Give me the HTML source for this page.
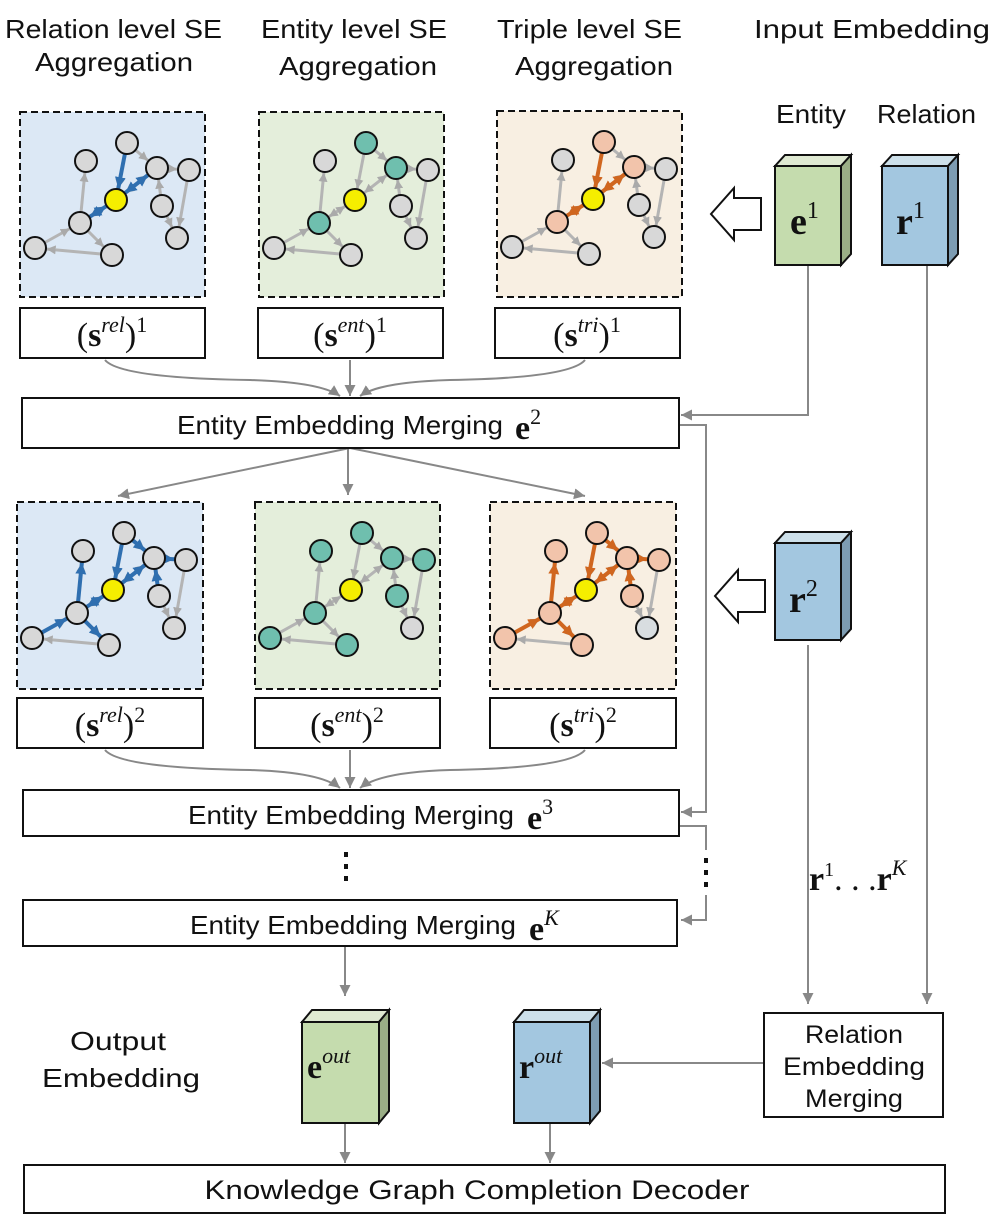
<!DOCTYPE html>
<html><head><meta charset="utf-8"><style>
body{margin:0;background:#fff}
svg{display:block}
text{font-family:"Liberation Sans",sans-serif;fill:#111}
.m{font-family:"Liberation Serif",serif;font-weight:bold}
.mi{font-family:"Liberation Serif",serif;font-style:italic}
</style></head><body>
<svg width="998" height="1230" viewBox="0 0 998 1230" xmlns="http://www.w3.org/2000/svg">
<defs>
<marker id="ag" viewBox="0 0 10 10" refX="23" refY="5" markerWidth="9" markerHeight="9" markerUnits="userSpaceOnUse" orient="auto-start-reverse"><path d="M0,0L10,5L0,10z" fill="#aaa"/></marker>
<marker id="ab" viewBox="0 0 10 10" refX="21" refY="5" markerWidth="11" markerHeight="11" markerUnits="userSpaceOnUse" orient="auto-start-reverse"><path d="M0,0L10,5L0,10z" fill="#2f6fb0"/></marker>
<marker id="ao" viewBox="0 0 10 10" refX="21" refY="5" markerWidth="11" markerHeight="11" markerUnits="userSpaceOnUse" orient="auto-start-reverse"><path d="M0,0L10,5L0,10z" fill="#d0661f"/></marker>
<marker id="ar" viewBox="0 0 10 10" refX="10" refY="5" markerWidth="11" markerHeight="11" markerUnits="userSpaceOnUse" orient="auto"><path d="M0,0L10,5L0,10z" fill="#888"/></marker>
<g id="gray" stroke="#b4b4b4" stroke-width="3" fill="none">
<line x1="60" y1="111" x2="66" y2="49" marker-end="url(#ag)"/>
<line x1="107" y1="31" x2="137" y2="56" marker-end="url(#ag)"/>
<line x1="137" y1="56" x2="169" y2="58" marker-end="url(#ag)"/>
<line x1="142" y1="94" x2="137" y2="56" marker-end="url(#ag)"/>
<line x1="169" y1="58" x2="157" y2="126" marker-end="url(#ag)"/>
<line x1="142" y1="94" x2="157" y2="126" marker-end="url(#ag)"/>
<line x1="60" y1="111" x2="92" y2="143" marker-end="url(#ag)"/>
<line x1="92" y1="143" x2="15" y2="136" marker-end="url(#ag)"/>
<line x1="15" y1="136" x2="60" y2="111" marker-end="url(#ag)"/>
<line x1="107" y1="31" x2="96" y2="88" marker-end="url(#ag)"/>
<line x1="96" y1="88" x2="137" y2="56" marker-end="url(#ag)" marker-start="url(#ag)"/>
<line x1="96" y1="88" x2="60" y2="111" marker-end="url(#ag)" marker-start="url(#ag)"/>
</g>
</defs>

<!-- headers -->
<g font-size="26">
<text x="5" y="38" textLength="217" lengthAdjust="spacingAndGlyphs">Relation level SE</text>
<text x="35" y="71" textLength="158" lengthAdjust="spacingAndGlyphs">Aggregation</text>
<text x="261" y="38" textLength="186" lengthAdjust="spacingAndGlyphs">Entity level SE</text>
<text x="279" y="75" textLength="158" lengthAdjust="spacingAndGlyphs">Aggregation</text>
<text x="497" y="38" textLength="185" lengthAdjust="spacingAndGlyphs">Triple level SE</text>
<text x="515" y="75" textLength="158" lengthAdjust="spacingAndGlyphs">Aggregation</text>
<text x="754" y="38" textLength="236" lengthAdjust="spacingAndGlyphs">Input Embedding</text>
<text x="776" y="123" textLength="70" lengthAdjust="spacingAndGlyphs">Entity</text>
<text x="877" y="123" textLength="99" lengthAdjust="spacingAndGlyphs">Relation</text>
</g>

<!-- row1 panels -->
<g transform="translate(20,112)">
<rect x="0" y="0" width="185" height="185" fill="#dce8f5" stroke="#111" stroke-width="2" stroke-dasharray="7,4"/>
<use href="#gray"/>
<g stroke="#2f6fb0" stroke-width="4"><line x1="107" y1="31" x2="96" y2="88" marker-end="url(#ab)"/><line x1="96" y1="88" x2="137" y2="56" marker-end="url(#ab)" marker-start="url(#ab)"/><line x1="96" y1="88" x2="60" y2="111" marker-end="url(#ab)" marker-start="url(#ab)"/></g>
<g stroke="#111" stroke-width="2" fill="#d8d8d8"><circle cx="66" cy="49" r="11"/><circle cx="107" cy="31" r="11"/><circle cx="137" cy="56" r="11"/><circle cx="169" cy="58" r="11"/><circle cx="142" cy="94" r="11"/><circle cx="157" cy="126" r="11"/><circle cx="60" cy="111" r="11"/><circle cx="15" cy="136" r="11"/><circle cx="92" cy="143" r="11"/><circle cx="96" cy="88" r="11" fill="#f5ee00"/></g>
</g>
<g transform="translate(259,112)">
<rect x="0" y="0" width="185" height="185" fill="#e4eedb" stroke="#111" stroke-width="2" stroke-dasharray="7,4"/>
<use href="#gray"/>
<g stroke="#111" stroke-width="2" fill="#d8d8d8"><circle cx="66" cy="49" r="11"/><circle cx="107" cy="31" r="11" fill="#6fbfae"/><circle cx="137" cy="56" r="11" fill="#6fbfae"/><circle cx="169" cy="58" r="11"/><circle cx="142" cy="94" r="11"/><circle cx="157" cy="126" r="11"/><circle cx="60" cy="111" r="11" fill="#6fbfae"/><circle cx="15" cy="136" r="11"/><circle cx="92" cy="143" r="11"/><circle cx="96" cy="88" r="11" fill="#f5ee00"/></g>
</g>
<g transform="translate(497,111)">
<rect x="0" y="0" width="185" height="186" fill="#f8efe2" stroke="#111" stroke-width="2" stroke-dasharray="7,4"/>
<use href="#gray"/>
<g stroke="#d0661f" stroke-width="4"><line x1="107" y1="31" x2="96" y2="88" marker-end="url(#ao)"/><line x1="96" y1="88" x2="137" y2="56" marker-end="url(#ao)" marker-start="url(#ao)"/><line x1="96" y1="88" x2="60" y2="111" marker-end="url(#ao)" marker-start="url(#ao)"/></g>
<g stroke="#111" stroke-width="2" fill="#d8d8d8"><circle cx="66" cy="49" r="11"/><circle cx="107" cy="31" r="11" fill="#f2c4ab"/><circle cx="137" cy="56" r="11" fill="#f2c4ab"/><circle cx="169" cy="58" r="11"/><circle cx="142" cy="94" r="11"/><circle cx="157" cy="126" r="11"/><circle cx="60" cy="111" r="11" fill="#f2c4ab"/><circle cx="15" cy="136" r="11"/><circle cx="92" cy="143" r="11"/><circle cx="96" cy="88" r="11" fill="#f5ee00"/></g>
</g>

<!-- row1 labels -->
<g fill="#fff" stroke="#111" stroke-width="2"><rect x="20" y="308" width="185" height="50"/><rect x="258" y="308" width="185" height="50"/><rect x="495" y="308" width="185" height="50"/></g>
<text x="112" y="346" font-size="34" text-anchor="middle" class="m"><tspan font-weight="normal">(</tspan><tspan>s</tspan><tspan class="mi" font-size="22" dy="-14" font-weight="normal">rel</tspan><tspan font-weight="normal" dy="14">)</tspan><tspan font-size="22" dy="-14" font-weight="normal">1</tspan></text>
<text x="350" y="346" font-size="34" text-anchor="middle" class="m"><tspan font-weight="normal">(</tspan><tspan>s</tspan><tspan class="mi" font-size="22" dy="-14" font-weight="normal">ent</tspan><tspan font-weight="normal" dy="14">)</tspan><tspan font-size="22" dy="-14" font-weight="normal">1</tspan></text>
<text x="587" y="346" font-size="34" text-anchor="middle" class="m"><tspan font-weight="normal">(</tspan><tspan>s</tspan><tspan class="mi" font-size="22" dy="-14" font-weight="normal">tri</tspan><tspan font-weight="normal" dy="14">)</tspan><tspan font-size="22" dy="-14" font-weight="normal">1</tspan></text>

<!-- connectors -->
<g stroke="#888" stroke-width="2" fill="none">
<path d="M105,360 Q120,378 250,380 Q320,382 340,396" marker-end="url(#ar)"/>
<line x1="350" y1="360" x2="350" y2="396" marker-end="url(#ar)"/>
<path d="M585,360 Q570,378 450,380 Q380,382 360,396" marker-end="url(#ar)"/>
<polyline points="808,265 808,415 681,415" marker-end="url(#ar)"/>
<polyline points="679,425 706,425 706,812 681,812" marker-end="url(#ar)"/>
<path d="M350,448 L118,496" marker-end="url(#ar)"/>
<line x1="348" y1="448" x2="348" y2="495" marker-end="url(#ar)"/>
<path d="M350,448 L585,496" marker-end="url(#ar)"/>
<path d="M105,750 Q120,768 250,770 Q320,772 340,788" marker-end="url(#ar)"/>
<line x1="350" y1="750" x2="350" y2="788" marker-end="url(#ar)"/>
<path d="M585,750 Q570,768 450,770 Q380,772 360,788" marker-end="url(#ar)"/>
<polyline points="679,826 706,826 706,850"/>
<polyline points="706,895 706,920 681,920" marker-end="url(#ar)"/>
<line x1="345" y1="946" x2="345" y2="996" marker-end="url(#ar)"/>
<line x1="808" y1="645" x2="808" y2="1004" marker-end="url(#ar)"/>
<line x1="927" y1="265" x2="927" y2="1004" marker-end="url(#ar)"/>
<line x1="764" y1="1063" x2="602" y2="1063" marker-end="url(#ar)"/>
<line x1="345" y1="1123" x2="345" y2="1163" marker-end="url(#ar)"/>
<line x1="550" y1="1123" x2="550" y2="1163" marker-end="url(#ar)"/>
</g>

<!-- merge boxes -->
<g fill="#fff" stroke="#111" stroke-width="2"><rect x="22" y="398" width="657" height="50"/><rect x="23" y="790" width="656" height="46"/><rect x="23" y="900" width="654" height="46"/></g>
<g font-size="26">
<text x="177" y="434" textLength="326" lengthAdjust="spacingAndGlyphs">Entity Embedding Merging</text>
<text x="188" y="824" textLength="326" lengthAdjust="spacingAndGlyphs">Entity Embedding Merging</text>
<text x="190" y="934" textLength="326" lengthAdjust="spacingAndGlyphs">Entity Embedding Merging</text>
</g>
<text x="515" y="439" font-size="34" class="m">e<tspan font-size="22" dy="-15" font-weight="normal">2</tspan></text>
<text x="527" y="829" font-size="34" class="m">e<tspan font-size="22" dy="-15" font-weight="normal">3</tspan></text>
<text x="529" y="940" font-size="34" class="m">e<tspan class="mi" font-size="22" dy="-15" font-weight="normal">K</tspan></text>

<!-- dots -->
<g fill="#111"><rect x="344" y="852" width="4" height="5"/><rect x="344" y="864" width="4" height="5"/><rect x="344" y="876" width="4" height="5"/>
<rect x="704" y="858" width="4" height="5"/><rect x="704" y="870" width="4" height="5"/><rect x="704" y="882" width="4" height="5"/></g>

<!-- row2 panels -->
<g transform="translate(17,502)">
<rect x="0" y="0" width="186" height="187" fill="#dce8f5" stroke="#111" stroke-width="2" stroke-dasharray="7,4"/>
<use href="#gray"/>
<g stroke="#2f6fb0" stroke-width="4"><line x1="107" y1="31" x2="96" y2="88" marker-end="url(#ab)"/><line x1="96" y1="88" x2="137" y2="56" marker-end="url(#ab)" marker-start="url(#ab)"/><line x1="96" y1="88" x2="60" y2="111" marker-end="url(#ab)" marker-start="url(#ab)"/><line x1="107" y1="31" x2="137" y2="56" marker-end="url(#ab)"/><line x1="137" y1="56" x2="169" y2="58" marker-end="url(#ab)"/><line x1="142" y1="94" x2="137" y2="56" marker-end="url(#ab)"/><line x1="60" y1="111" x2="66" y2="49" marker-end="url(#ab)"/><line x1="15" y1="136" x2="60" y2="111" marker-end="url(#ab)"/><line x1="60" y1="111" x2="92" y2="143" marker-end="url(#ab)"/></g>
<g stroke="#111" stroke-width="2" fill="#d8d8d8"><circle cx="66" cy="49" r="11"/><circle cx="107" cy="31" r="11"/><circle cx="137" cy="56" r="11"/><circle cx="169" cy="58" r="11"/><circle cx="142" cy="94" r="11"/><circle cx="157" cy="126" r="11"/><circle cx="60" cy="111" r="11"/><circle cx="15" cy="136" r="11"/><circle cx="92" cy="143" r="11"/><circle cx="96" cy="88" r="11" fill="#f5ee00"/></g>
</g>
<g transform="translate(255,502)">
<rect x="0" y="0" width="185" height="187" fill="#e4eedb" stroke="#111" stroke-width="2" stroke-dasharray="7,4"/>
<use href="#gray"/>
<g stroke="#111" stroke-width="2" fill="#6fbfae"><circle cx="66" cy="49" r="11"/><circle cx="107" cy="31" r="11"/><circle cx="137" cy="56" r="11"/><circle cx="169" cy="58" r="11"/><circle cx="142" cy="94" r="11"/><circle cx="157" cy="126" r="11" fill="#d8d8d8"/><circle cx="60" cy="111" r="11"/><circle cx="15" cy="136" r="11"/><circle cx="92" cy="143" r="11"/><circle cx="96" cy="88" r="11" fill="#f5ee00"/></g>
</g>
<g transform="translate(490,502)">
<rect x="0" y="0" width="186" height="187" fill="#f8efe2" stroke="#111" stroke-width="2" stroke-dasharray="7,4"/>
<use href="#gray"/>
<g stroke="#d0661f" stroke-width="4"><line x1="107" y1="31" x2="96" y2="88" marker-end="url(#ao)"/><line x1="96" y1="88" x2="137" y2="56" marker-end="url(#ao)" marker-start="url(#ao)"/><line x1="96" y1="88" x2="60" y2="111" marker-end="url(#ao)" marker-start="url(#ao)"/><line x1="107" y1="31" x2="137" y2="56" marker-end="url(#ao)"/><line x1="137" y1="56" x2="169" y2="58" marker-end="url(#ao)"/><line x1="142" y1="94" x2="137" y2="56" marker-end="url(#ao)"/><line x1="60" y1="111" x2="66" y2="49" marker-end="url(#ao)"/><line x1="15" y1="136" x2="60" y2="111" marker-end="url(#ao)"/><line x1="60" y1="111" x2="92" y2="143" marker-end="url(#ao)"/></g>
<g stroke="#111" stroke-width="2" fill="#f2c4ab"><circle cx="66" cy="49" r="11"/><circle cx="107" cy="31" r="11"/><circle cx="137" cy="56" r="11"/><circle cx="169" cy="58" r="11"/><circle cx="142" cy="94" r="11"/><circle cx="157" cy="126" r="11" fill="#d8dde0"/><circle cx="60" cy="111" r="11"/><circle cx="15" cy="136" r="11"/><circle cx="92" cy="143" r="11"/><circle cx="96" cy="88" r="11" fill="#f5ee00"/></g>
</g>

<!-- row2 labels -->
<g fill="#fff" stroke="#111" stroke-width="2"><rect x="17" y="698" width="186" height="50"/><rect x="255" y="698" width="185" height="50"/><rect x="490" y="698" width="186" height="50"/></g>
<text x="110" y="736" font-size="34" text-anchor="middle" class="m"><tspan font-weight="normal">(</tspan><tspan>s</tspan><tspan class="mi" font-size="22" dy="-14" font-weight="normal">rel</tspan><tspan font-weight="normal" dy="14">)</tspan><tspan font-size="22" dy="-14" font-weight="normal">2</tspan></text>
<text x="347" y="736" font-size="34" text-anchor="middle" class="m"><tspan font-weight="normal">(</tspan><tspan>s</tspan><tspan class="mi" font-size="22" dy="-14" font-weight="normal">ent</tspan><tspan font-weight="normal" dy="14">)</tspan><tspan font-size="22" dy="-14" font-weight="normal">2</tspan></text>
<text x="583" y="736" font-size="34" text-anchor="middle" class="m"><tspan font-weight="normal">(</tspan><tspan>s</tspan><tspan class="mi" font-size="22" dy="-14" font-weight="normal">tri</tspan><tspan font-weight="normal" dy="14">)</tspan><tspan font-size="22" dy="-14" font-weight="normal">2</tspan></text>

<!-- hollow arrows -->
<path d="M761,198 L734,198 L734,188 L711,214 L734,240 L734,230 L761,230 Z" fill="#fff" stroke="#111" stroke-width="2"/>
<path d="M765,580 L738,580 L738,570 L715,596 L738,622 L738,612 L765,612 Z" fill="#fff" stroke="#111" stroke-width="2"/>

<!-- cubes -->
<g stroke="#111" stroke-width="2">
<path d="M775,166 L785,155 L851,155 L841,166 Z" fill="#dfe9d2"/><path d="M841,166 L851,155 L851,254 L841,265 Z" fill="#9aae86"/><rect x="775" y="166" width="66" height="99" fill="#c5dcae"/>
<path d="M882,166 L892,155 L958,155 L948,166 Z" fill="#cde0ea"/><path d="M948,166 L958,155 L958,254 L948,265 Z" fill="#7d9cb2"/><rect x="882" y="166" width="66" height="99" fill="#a3c7e0"/>
<path d="M775,543 L785,532 L851,532 L841,543 Z" fill="#cde0ea"/><path d="M841,543 L851,532 L851,629 L841,640 Z" fill="#7d9cb2"/><rect x="775" y="543" width="66" height="97" fill="#a3c7e0"/>
<path d="M302,1022 L312,1010 L389,1010 L379,1022 Z" fill="#dfe9d2"/><path d="M379,1022 L389,1010 L389,1111 L379,1123 Z" fill="#9aae86"/><rect x="302" y="1022" width="77" height="101" fill="#c5dcae"/>
<path d="M514,1022 L524,1010 L600,1010 L590,1022 Z" fill="#cde0ea"/><path d="M590,1022 L600,1010 L600,1111 L590,1123 Z" fill="#7d9cb2"/><rect x="514" y="1022" width="76" height="101" fill="#a3c7e0"/>
</g>
<text x="790" y="234" font-size="38" class="m">e<tspan font-size="24" dy="-16" font-weight="normal">1</tspan></text>
<text x="896" y="234" font-size="38" class="m">r<tspan font-size="24" dy="-16" font-weight="normal">1</tspan></text>
<text x="789" y="612" font-size="38" class="m">r<tspan font-size="24" dy="-16" font-weight="normal">2</tspan></text>
<text x="307" y="1078" font-size="34" class="m">e<tspan class="mi" font-size="22" dy="-15" font-weight="normal">out</tspan></text>
<text x="519" y="1078" font-size="34" class="m">r<tspan class="mi" font-size="22" dy="-15" font-weight="normal">out</tspan></text>
<text x="809" y="890" font-size="34" class="m">r<tspan font-size="20" dy="-14" font-weight="normal">1</tspan><tspan dy="14" font-weight="normal">. . .</tspan>r<tspan class="mi" font-size="22" dy="-15" font-weight="normal">K</tspan></text>

<!-- output -->
<g font-size="26">
<text x="70" y="1050" textLength="96" lengthAdjust="spacingAndGlyphs">Output</text>
<text x="42" y="1087" textLength="158" lengthAdjust="spacingAndGlyphs">Embedding</text>
</g>
<rect x="764" y="1013" width="179" height="104" fill="#fff" stroke="#111" stroke-width="2"/>
<g font-size="25" text-anchor="middle">
<text x="854" y="1043" textLength="98" lengthAdjust="spacingAndGlyphs">Relation</text>
<text x="854" y="1075" textLength="142" lengthAdjust="spacingAndGlyphs">Embedding</text>
<text x="854" y="1107" textLength="98" lengthAdjust="spacingAndGlyphs">Merging</text>
</g>
<rect x="24" y="1165" width="921" height="48" fill="#fff" stroke="#111" stroke-width="2"/>
<text x="477" y="1199" font-size="27" text-anchor="middle" textLength="545" lengthAdjust="spacingAndGlyphs">Knowledge Graph Completion Decoder</text>
</svg>
</body></html>
